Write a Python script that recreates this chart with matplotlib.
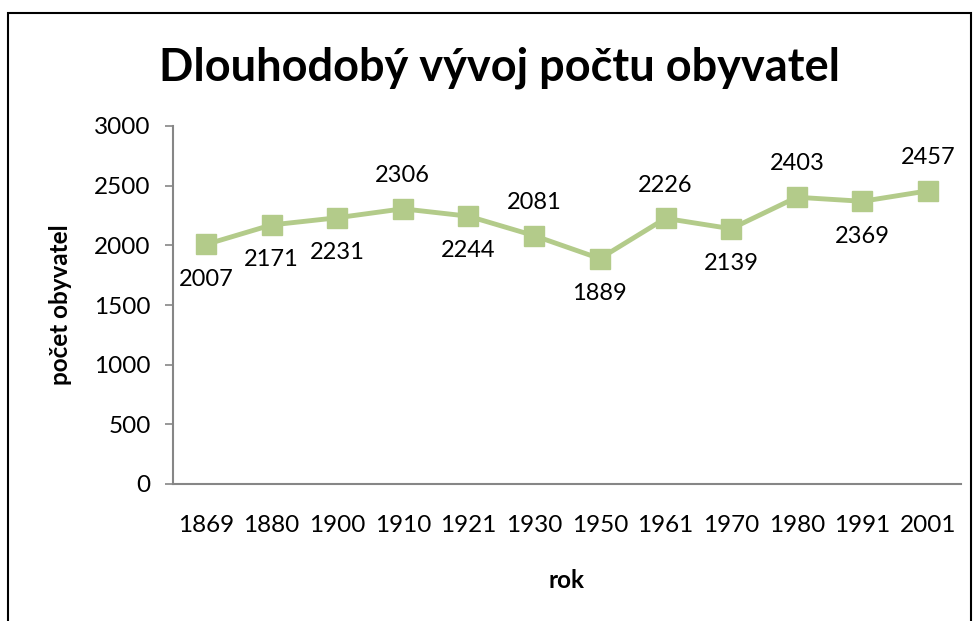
import matplotlib
matplotlib.use("Agg")
import matplotlib.pyplot as plt
from matplotlib.patches import Rectangle

years = ["1869", "1880", "1900", "1910", "1921", "1930", "1950", "1961", "1970", "1980", "1991", "2001"]
population = [2007, 2171, 2231, 2306, 2244, 2081, 1889, 2226, 2139, 2403, 2369, 2457]
label_above = [False, False, False, True, False, True, False, True, False, True, False, True]

plt.rcParams['font.family'] = ['Lato', 'DejaVu Sans']

fig = plt.figure(figsize=(9.79, 6.21), dpi=100)
ax = fig.add_axes([173/979, 1-484/621, (961-173)/979, (484-126)/621])

x = list(range(len(years)))
color = "#B3CB8A"
ax.plot(x, population, color=color, linewidth=3.5, marker="s", markersize=14,
        markerfacecolor=color, markeredgecolor=color, zorder=3)

for xi, v, up in zip(x, population, label_above):
    ax.annotate(str(v), (xi, v), xytext=(0, 24 if up else -25), textcoords="offset points",
                ha="center", va="center", fontsize=17, color="black")

ax.set_xlim(-0.5, len(years) - 0.5)
ax.set_ylim(0, 3000)
ax.set_yticks([0, 500, 1000, 1500, 2000, 2500, 3000])
ax.set_xticks(x)
ax.set_xticklabels(years)
ax.tick_params(axis="y", length=6, color="#868686", width=1.2, labelsize=17.5, pad=10)
ax.tick_params(axis="x", length=0, labelsize=17.5, pad=22)
for s in ["top", "right"]:
    ax.spines[s].set_visible(False)
for s in ["left", "bottom"]:
    ax.spines[s].set_color("#868686")
    ax.spines[s].set_linewidth(1.5)

ax.set_ylabel("počet obyvatel", fontsize=17.5, fontweight="bold", labelpad=16)
ax.set_xlabel("rok", fontsize=17.5, fontweight="bold", labelpad=24)

fig.text(500/979, 1-68/621, "Dlouhodobý vývoj počtu obyvatel", ha="center", va="center",
         fontsize=32.5, fontweight="bold")

fig.patches.append(Rectangle((8/979, -0.05), (971-8)/979, 1.05 - 13/621, transform=fig.transFigure,
                             fill=False, edgecolor="black", linewidth=1.5))

fig.savefig("out.png", dpi=100)
